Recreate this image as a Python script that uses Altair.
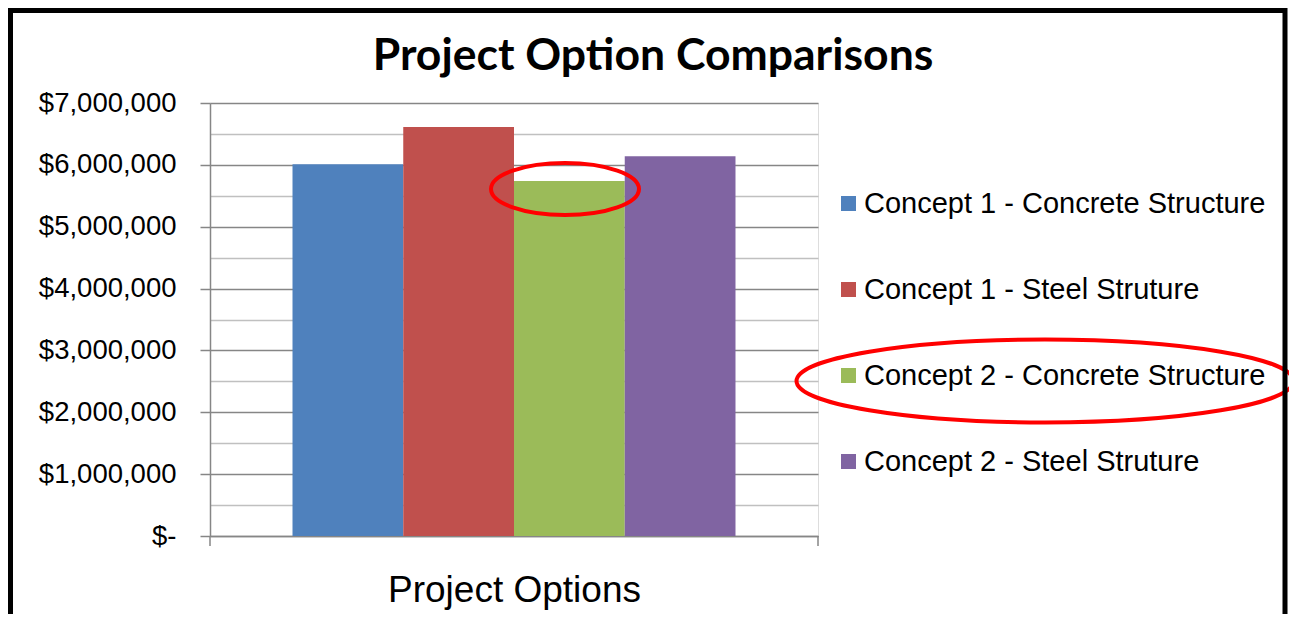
import altair as alt
import pandas as pd

# ---- data ----
options = [
    "Concept 1 - Concrete Structure",
    "Concept 1 - Steel Struture",
    "Concept 2 - Concrete Structure",
    "Concept 2 - Steel Struture",
]
costs = [6010000, 6610000, 5740000, 6140000]
colors = ["#4F81BD", "#C0504D", "#9BBB59", "#8064A2"]
y_ticks = [i * 500000 for i in range(15)]
chart_title = "Project Option Comparisons"

df = pd.DataFrame({"option": options, "cost": costs})

W, H = 608, 433
PAD_L, PAD_T = 202, 95
TOTAL_W, TOTAL_H = 1281, 606

label_expr = (
    "datum.value == 0 ? '$-  ' : "
    "(datum.value % 1000000 == 0 ? '$' + format(datum.value, ',') : '')"
)

bars = alt.Chart(df).mark_bar().encode(
    x=alt.X(
        "option:N",
        sort=options,
        scale=alt.Scale(paddingInner=0, paddingOuter=0.745),
        axis=alt.Axis(
            labels=False,
            ticks=False,
            title="Project Options",
            titleFont="Liberation Sans",
            titleFontSize=37,
            titleFontWeight="normal",
            titleColor="#000000",
            titlePadding=36,
            domainColor="#868686",
            domainWidth=1.5,
            grid=False,
        ),
    ),
    y=alt.Y(
        "cost:Q",
        scale=alt.Scale(domain=[0, 7000000], nice=False, zero=True),
        axis=alt.Axis(
            values=y_ticks,
            labelExpr=label_expr,
            labelOverlap=False,
            labelFont="Liberation Sans",
            labelFontSize=27.5,
            labelColor="#000000",
            labelPadding=24,
            tickSize=10,
            tickColor="#868686",
            tickWidth=1.5,
            tickOpacity={"condition": {"test": "datum.value % 1000000 == 0", "value": 1}, "value": 0},
            gridColor={"condition": {"test": "datum.value % 1000000 == 0", "value": "#868686"}, "value": "#C0C0C0"},
            gridWidth=1.5,
            domainColor="#868686",
            domainWidth=1.5,
            title=None,
        ),
    ),
    color=alt.Color(
        "option:N",
        sort=options,
        scale=alt.Scale(domain=options, range=colors),
        legend=alt.Legend(
            title=None,
            orient="none",
            legendX=624,
            legendY=86,
            symbolType="square",
            symbolSize=225,
            symbolStrokeWidth=0,
            labelFont="Liberation Sans",
            labelFontSize=29,
            labelColor="#000000",
            labelLimit=600,
            rowPadding=56,
            labelOffset=1,
        ),
    ),
)

one = pd.DataFrame({"k": [0]})
title_df = pd.DataFrame({"t": [chart_title]})

# chart title
title_mark = alt.Chart(title_df).mark_text(
    font="Lato", fontSize=44.5, fontWeight="bold", color="#000000",
    align="center", baseline="alphabetic",
).encode(text="t:N", x=alt.value(443), y=alt.value(-33))

# x-axis edge ticks (Excel style category boundary ticks)
tick_left = alt.Chart(one).mark_rule(color="#868686", strokeWidth=1.5).encode(
    x=alt.value(0), y=alt.value(H), y2=alt.value(H + 10)
)
tick_right = alt.Chart(one).mark_rule(color="#868686", strokeWidth=1.5).encode(
    x=alt.value(W), y=alt.value(H), y2=alt.value(H + 10)
)

# red ellipse annotations
ell_small = "M-1,0A1,0.351,0,1,0,1,0A1,0.351,0,1,0,-1,0Z"
ell_large = "M-1,0A1,0.167,0,1,0,1,0A1,0.167,0,1,0,-1,0Z"
ann1 = alt.Chart(one).mark_point(
    shape=ell_small, filled=False, stroke="#FF0000", strokeWidth=4, opacity=1
).encode(x=alt.value(355), y=alt.value(86), size=alt.value(148 * 148))
ann2 = alt.Chart(one).mark_point(
    shape=ell_large, filled=False, stroke="#FF0000", strokeWidth=4, opacity=1
).encode(x=alt.value(835), y=alt.value(278), size=alt.value(497 * 497))

# black frame around the chart
frame = alt.Chart(one).mark_rect(
    filled=False, stroke="#000000", strokeWidth=5
).encode(
    x=alt.value(-PAD_L + 2.5),
    x2=alt.value(TOTAL_W - PAD_L - 4),
    y=alt.value(-PAD_T + 2.5),
    y2=alt.value(TOTAL_H - PAD_T + 20),
)

chart = (
    alt.layer(bars, tick_left, tick_right, ann1, ann2, title_mark, frame)
    .properties(
        width=W,
        height=H,
        autosize=alt.AutoSizeParams(type="none"),
        padding={"left": PAD_L, "top": PAD_T, "right": TOTAL_W - PAD_L - W, "bottom": TOTAL_H - PAD_T - H},
    )
    .configure_view(stroke=None)
    .configure(background="#FFFFFF")
)

chart.save("out.html", embed_options={"renderer": "svg", "actions": False})
